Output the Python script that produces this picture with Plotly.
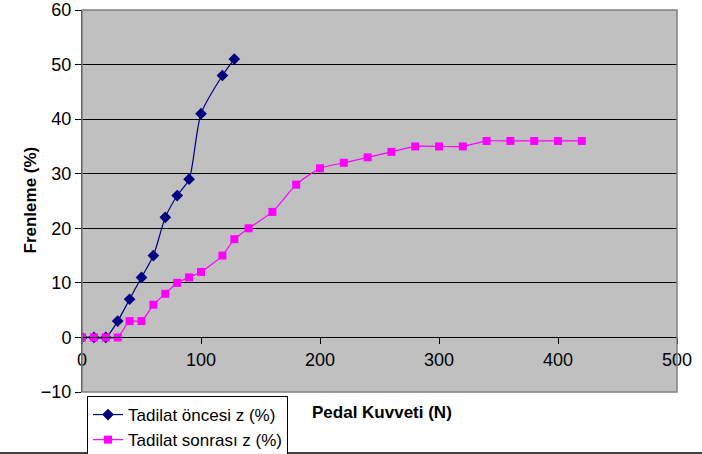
import plotly.graph_objects as go

# Data
before_x = [0, 10, 20, 30, 40, 50, 60, 70, 80, 90, 100, 118, 128]
before_y = [0, 0, 0, 3, 7, 11, 15, 22, 26, 29, 41, 48, 51]

after_x = [0, 10, 20, 30, 40, 50, 60, 70, 80, 90, 100, 118, 128, 140, 160, 180,
           200, 220, 240, 260, 280, 300, 320, 340, 360, 380, 400, 420]
after_y = [0, 0, 0, 0, 3, 3, 6, 8, 10, 11, 12, 15, 18, 20, 23, 28,
           31, 32, 33, 34, 35, 35, 35, 36, 36, 36, 36, 36]

name_before = "Tadilat öncesi z (%)"
name_after = "Tadilat sonrası z (%)"
x_title = "Pedal Kuvveti (N)"
y_title = "Frenleme (%)"

FONT = "Liberation Sans, Arial, sans-serif"

W, H = 702, 454
L, R, T, B = 82, 25, 10, 62
PW, PH = W - L - R, H - T - B

fig = go.Figure()
fig.add_trace(go.Scatter(
    x=before_x, y=before_y, name=name_before, mode="lines+markers",
    line=dict(color="#000080", width=1.2, shape="spline", smoothing=0.7),
    marker=dict(symbol="diamond", size=9, color="#000080"),
))
fig.add_trace(go.Scatter(
    x=after_x, y=after_y, name=name_after, mode="lines+markers",
    line=dict(color="#FF00FF", width=1.2, shape="spline", smoothing=0.6),
    marker=dict(symbol="square", size=8, color="#FF00FF"),
))

fig.update_layout(
    width=W, height=H,
    margin=dict(l=L, r=R, t=T, b=B, autoexpand=False),
    paper_bgcolor="white",
    plot_bgcolor="#C0C0C0",
    font=dict(family=FONT, size=17, color="black"),
    showlegend=True,
    legend=dict(
        xref="container", yref="container",
        x=87 / W, y=1 - 396 / H, xanchor="left", yanchor="top",
        bgcolor="white", bordercolor="black", borderwidth=1,
        font=dict(family=FONT, size=17, color="black"),
        tracegroupgap=0, itemwidth=30,
    ),
    xaxis=dict(
        range=[0, 500], dtick=100, tick0=0,
        anchor="free", position=1/7,
        showline=True, linecolor="black", linewidth=1,
        ticks="outside", ticklen=6, tickcolor="black",
        showgrid=False, zeroline=False,
        tickfont=dict(family=FONT, size=18, color="black"),
    ),
    yaxis=dict(
        range=[-10, 60], dtick=10, tick0=0,
        showline=True, linecolor="black", linewidth=1,
        ticks="outside", ticklen=6, tickcolor="black",
        showgrid=True, gridcolor="black", gridwidth=1,
        zeroline=False,
        tickfont=dict(family=FONT, size=18, color="black"),
    ),
)

# gray plot-area border (top and right)
fig.add_shape(type="rect", xref="paper", yref="paper", x0=0, y0=0, x1=1, y1=1,
              line=dict(color="#808080", width=1.5), layer="above")
# chart-area bottom line
fig.add_shape(type="line", xref="paper", yref="paper",
              x0=-L / PW, x1=(W - L) / PW, y0=-61 / PH, y1=-61 / PH,
              line=dict(color="black", width=1.5))

fig.add_annotation(text="<b>" + x_title + "</b>", xref="paper", yref="paper",
                   x=(382 - L) / PW, y=-32 / PH, showarrow=False,
                   font=dict(family=FONT, size=17, color="black"))
fig.add_annotation(text="<b>" + y_title + "</b>", xref="paper", yref="paper",
                   x=(18 - L) / PW, y=(H - B - 200) / PH, textangle=-90, showarrow=False,
                   font=dict(family=FONT, size=17, color="black"))

fig.write_html("out.html", config={"displayModeBar": False},
               post_script="document.body.style.margin='0';document.body.style.padding='0';")
